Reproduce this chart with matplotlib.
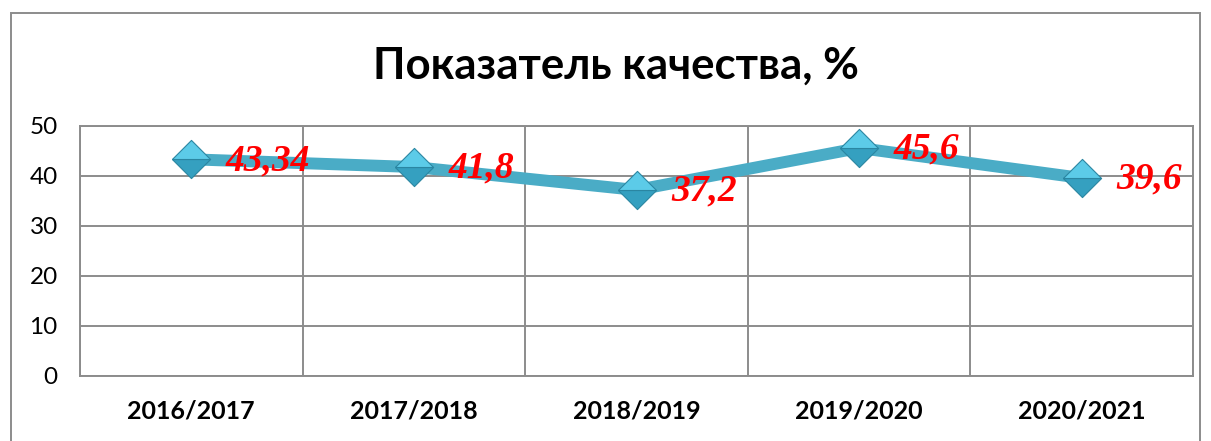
import matplotlib.pyplot as plt
from matplotlib.path import Path
from matplotlib.patches import Rectangle

years = ['2016/2017', '2017/2018', '2018/2019', '2019/2020', '2020/2021']
quality = [43.34, 41.8, 37.2, 45.6, 39.6]
value_labels = ['43,34', '41,8', '37,2', '45,6', '39,6']
y_ticks = [0, 10, 20, 30, 40, 50]

grid_col = '#8c8c8c'
line_col = '#4aacc6'

fig = plt.figure(figsize=(12.11, 4.41), dpi=100)
ax = fig.add_axes([80 / 1211, 65 / 441, 1113 / 1211, 250 / 441])

x = list(range(len(years)))
ax.plot(x, quality, color=line_col, lw=8.6, solid_capstyle='round', zorder=3)

# two-tone diamond markers
top_half = Path([(-1, 0), (0, 1), (1, 0), (-1, 0)])
bottom_half = Path([(-1, 0), (0, -1), (1, 0), (-1, 0)])
ax.plot(x, quality, ls='none', marker=bottom_half, ms=27.5, mfc='#35a0c0',
        mec='#2a86a2', mew=0.8, zorder=4)
ax.plot(x, quality, ls='none', marker=top_half, ms=27.5, mfc='#5ccbe8',
        mec='#2a86a2', mew=0.8, zorder=5)

for xi, v, lab in zip(x, quality, value_labels):
    ax.annotate(lab, (xi, v), xytext=(25, -1), textcoords='offset points',
                ha='left', va='center', color='red', fontsize=27,
                family='Liberation Serif', fontweight='bold', fontstyle='italic',
                zorder=6)

ax.set_xlim(-0.5, len(years) - 0.5)
ax.set_ylim(0, 50)
ax.set_yticks(y_ticks)
ax.set_xticks(x)
ax.set_xticklabels(years, fontsize=18, fontweight='bold', family='Lato')
ax.set_xticks([i + 0.5 for i in range(-1, len(years))], minor=True)
ax.tick_params(axis='y', length=0, pad=16, labelsize=17.5)
ax.tick_params(axis='x', which='both', length=0, pad=17)
for t in ax.get_yticklabels():
    t.set_family('Lato')

ax.grid(axis='y', color=grid_col, lw=1.4)
ax.grid(axis='x', which='minor', color=grid_col, lw=1.4)
ax.set_axisbelow(True)
for s in ax.spines.values():
    s.set_color(grid_col)
    s.set_linewidth(1.4)

fig.text(616 / 1211, 1 - 66 / 441, 'Показатель качества, %', ha='center',
         va='center', fontsize=31.5, fontweight='bold', family='Lato')

# outer chart border
fig.patches.append(Rectangle((11 / 1211, -0.05), 1189 / 1211, 1.05 - 13 / 441,
                             transform=fig.transFigure, fill=False,
                             ec='#8c8c8c', lw=1.4))

plt.savefig('out.png', dpi=100)
